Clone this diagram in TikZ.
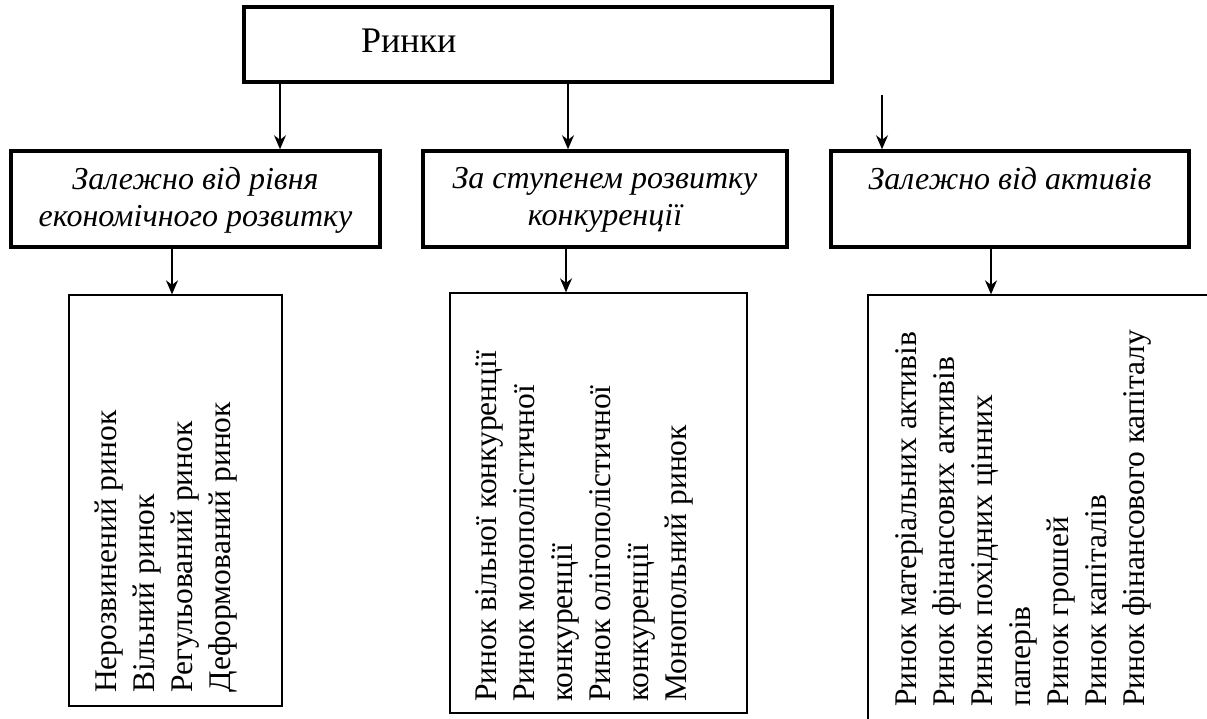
\documentclass[tikz,border=0pt]{standalone}
\usepackage{fontspec}
\setmainfont{Liberation Serif}
\usetikzlibrary{arrows.meta}
\usetikzlibrary{positioning}

\begin{document}
\begin{tikzpicture}[x=1pt,y=-1pt,
  topbox/.style={draw, line width=3.5pt, inner sep=0pt},
  groupbox/.style={draw, line width=3.5pt, inner sep=0pt, minimum height=96pt},
  grouptext/.style={font=\fontsize{32}{37}\selectfont\itshape, align=center, inner sep=0pt},
  listbox/.style={draw, line width=1.3pt, inner sep=0pt},
  listtext/.style={font=\fontsize{31.5}{38}\selectfont, align=left, inner sep=0pt, rotate=90, anchor=north west},
  arr/.style={-{Stealth[length=14pt,width=12pt]}, line width=1.5pt}]
  \useasboundingbox (0,0) rectangle (1207,719);
  \clip (0,0) rectangle (1207,719);

  % top
  \node [topbox, minimum width=588pt, minimum height=75pt] (markets) at (538,44.5) {};
  \node [font=\fontsize{36}{42}\selectfont, anchor=base west, inner sep=0pt] (marketsname) at (361,53) {Ринки};

  % groups
  \node [groupbox, minimum width=369pt] (bylevel) at (195.5,199) {};
  \node [groupbox, minimum width=364pt] (bycomp) at (605,199) {};
  \node [groupbox, minimum width=358pt] (byassets) at (1010,199) {};
  \node [grouptext, below=18pt of bylevel.north] (bylevelname) {Залежно від рівня\\економічного розвитку};
  \node [grouptext, below=18pt of bycomp.north] (bycompname) {За ступенем розвитку\\конкуренції};
  \node [grouptext, below=18pt of byassets.north] (byassetsname) {Залежно від активів};

  % lists
  \node [listbox, minimum width=213pt, minimum height=411pt] (bylevellist) at (175.5,500.5) {};
  \node [listbox, minimum width=297pt, minimum height=420pt] (bycomplist) at (598.5,503) {};
  \node [listbox, minimum width=372pt, minimum height=465pt] (byassetslist) at (1054,527.5) {};
  \node [listtext] (bylevelitems) at (95,693) {Нерозвинений ринок\\Вільний ринок\\Регульований ринок\\Деформований ринок};
  \node [listtext] (bycompitems) at (475,702) {Ринок вільної конкуренції\\Ринок монополістичної\\конкуренції\\Ринок олігополістичної\\конкуренції\\Монопольний ринок};
  \node [listtext] (byassetsitems) at (895,707) {Ринок матеріальних активів\\Ринок фінансових активів\\Ринок похідних цінних\\паперів\\Ринок грошей\\Ринок капіталів\\Ринок фінансового капіталу};

  % arrows
  \coordinate (a1) at (280,0);
  \coordinate (a2) at (568,0);
  \coordinate (a3) at (882,95);
  \coordinate (b1) at (172,0);
  \coordinate (b2) at (566,0);
  \coordinate (b3) at (991,0);
  \draw [arr] (markets.south -| a1) -- (bylevel.north -| a1);
  \draw [arr] (markets.south -| a2) -- (bycomp.north -| a2);
  \draw [arr] (a3) -- (byassets.north -| a3);
  \draw [arr] (bylevel.south -| b1) -- (bylevellist.north -| b1);
  \draw [arr] (bycomp.south -| b2) -- (bycomplist.north -| b2);
  \draw [arr] (byassets.south -| b3) -- (byassetslist.north -| b3);
\end{tikzpicture}
\end{document}
